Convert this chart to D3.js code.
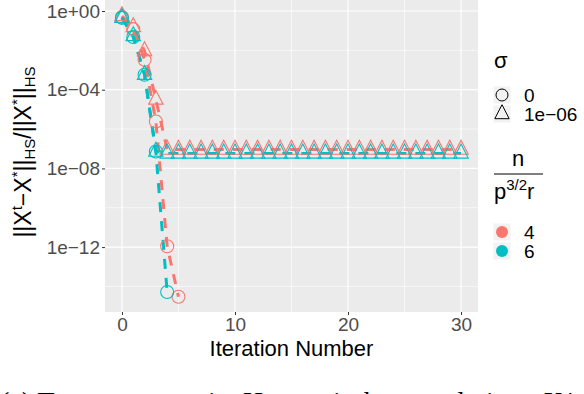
<!DOCTYPE html>
<html><head><meta charset="utf-8">
<script src="https://cdn.jsdelivr.net/npm/d3@7"></script>
<style>body{margin:0;background:#fff}svg{display:block}</style>
</head><body>
<svg id="c" width="584" height="394"></svg>
<script>
// ---- data ----
const iterations = d3.range(0, 31);
const xTicks = [0, 10, 20, 30];
const yTicks = [1e0, 1e-4, 1e-8, 1e-12];
const yTickLabels = ["1e+00", "1e\u221204", "1e\u221208", "1e\u221212"];
const yMinor = [1e-2, 1e-6, 1e-10, 1e-14];
const sigmaLevels = ["0", "1e\u221206"];
const ratioLevels = ["4", "6"];
// sigma = 0 (circles)
const sig0_n4 = [0.50, 0.12, 3.3e-3, 2.4e-6, 1.1e-12, 3.0e-15];
const sig0_n6 = [0.45, 0.048, 5.8e-4, 7.2e-8, 5.2e-15];
// sigma = 1e-06 (triangles)
const sig6_n4 = [0.56, 0.155, 9.3e-3, 3.2e-5, 9.1e-8, 9.1e-8, 9.1e-8, 9.1e-8, 9.1e-8, 9.1e-8, 9.1e-8,
  9.1e-8, 9.1e-8, 9.1e-8, 9.1e-8, 9.1e-8, 9.1e-8, 9.1e-8, 9.1e-8, 9.1e-8, 9.1e-8,
  9.1e-8, 9.1e-8, 9.1e-8, 9.1e-8, 9.1e-8, 9.1e-8, 9.1e-8, 9.1e-8, 9.1e-8, 9.1e-8];
const sig6_n6 = [0.45, 0.054, 5.8e-4, 7.2e-8, 5.8e-8, 5.8e-8, 5.8e-8, 5.8e-8, 5.8e-8, 5.8e-8, 5.8e-8,
  5.8e-8, 5.8e-8, 5.8e-8, 5.8e-8, 5.8e-8, 5.8e-8, 5.8e-8, 5.8e-8, 5.8e-8, 5.8e-8,
  5.8e-8, 5.8e-8, 5.8e-8, 5.8e-8, 5.8e-8, 5.8e-8, 5.8e-8, 5.8e-8, 5.8e-8, 5.8e-8];

const colors = {"4": "#F8766D", "6": "#00BFC4"};
const series = [
  {sigma: "0", ratio: "4", vals: sig0_n4},
  {sigma: "1e\u221206", ratio: "4", vals: sig6_n4},
  {sigma: "0", ratio: "6", vals: sig0_n6},
  {sigma: "1e\u221206", ratio: "6", vals: sig6_n6}
];

// ---- layout ----
const svg = d3.select("#c");
const P = {l: 105, r: 478, t: 0, b: 312};
const x = d3.scaleLinear().domain([-1.5, 31.5]).range([P.l, P.r]);
const y = d3.scaleLog().domain([Math.pow(10, -15.3), Math.pow(10, 0.56)]).range([P.b, P.t]);

svg.append("rect").attr("x", P.l).attr("y", P.t).attr("width", P.r - P.l).attr("height", P.b - P.t).attr("fill", "#EBEBEB");
const g = svg.append("g");
g.selectAll(".ymin").data(yMinor).enter().append("line")
  .attr("x1", P.l).attr("x2", P.r).attr("y1", d => y(d)).attr("y2", d => y(d))
  .attr("stroke", "#fff").attr("stroke-width", 0.6);
g.selectAll(".xmin").data([5, 15, 25]).enter().append("line")
  .attr("y1", P.t).attr("y2", P.b).attr("x1", d => x(d)).attr("x2", d => x(d))
  .attr("stroke", "#fff").attr("stroke-width", 0.6);
g.selectAll(".ymaj").data(yTicks).enter().append("line")
  .attr("x1", P.l).attr("x2", P.r).attr("y1", d => y(d)).attr("y2", d => y(d))
  .attr("stroke", "#fff").attr("stroke-width", 1.2);
g.selectAll(".xmaj").data(xTicks).enter().append("line")
  .attr("y1", P.t).attr("y2", P.b).attr("x1", d => x(d)).attr("x2", d => x(d))
  .attr("stroke", "#fff").attr("stroke-width", 1.2);

const font = "Liberation Sans, Arial, sans-serif";
const xAxis = d3.axisBottom(x).tickValues(xTicks).tickSize(3).tickPadding(3);
const gx = svg.append("g").attr("transform", `translate(0,${P.b})`).call(xAxis);
gx.select(".domain").remove();
gx.selectAll("line").attr("stroke", "#333");
gx.selectAll("text").attr("fill", "#4D4D4D").style("font-family", font).style("font-size", "19px");

const yAxis = d3.axisLeft(y).tickValues(yTicks).tickFormat((d, i) => yTickLabels[i]).tickSize(3).tickPadding(2);
const gy = svg.append("g").attr("transform", `translate(${P.l},0)`).call(yAxis);
gy.select(".domain").remove();
gy.selectAll("line").attr("stroke", "#333");
gy.selectAll("text").attr("fill", "#4D4D4D").style("font-family", font).style("font-size", "19px");

// lines
const line = d3.line().x((d, i) => x(iterations[i])).y(d => y(d));
svg.append("defs").append("clipPath").attr("id", "pc").append("rect")
  .attr("x", P.l).attr("y", P.t).attr("width", P.r - P.l).attr("height", P.b - P.t);
const plot = svg.append("g").attr("clip-path", "url(#pc)");
series.forEach(s => {
  plot.append("path").datum(s.vals).attr("d", line).attr("fill", "none")
    .attr("stroke", colors[s.ratio]).attr("stroke-width", 3).attr("stroke-dasharray", "10,9");
});
const tri = "M0,-9.3L7.2,4.7L-7.2,4.7Z";
series.forEach(s => {
  const pts = plot.append("g");
  s.vals.forEach((v, i) => {
    if (s.sigma === "0") {
      pts.append("circle").attr("cx", x(iterations[i])).attr("cy", y(v)).attr("r", 6.5)
        .attr("fill", "none").attr("stroke", colors[s.ratio]).attr("stroke-width", 1.1);
    } else {
      pts.append("path").attr("d", tri).attr("transform", `translate(${x(iterations[i])},${y(v)})`)
        .attr("fill", "none").attr("stroke", colors[s.ratio]).attr("stroke-width", 1.1);
    }
  });
});

// axis titles
svg.append("text").attr("x", (P.l + P.r) / 2).attr("y", 356).attr("text-anchor", "middle")
  .style("font-family", font).style("font-size", "22px").attr("fill", "#000").text("Iteration Number");

const yt = svg.append("text").attr("transform", "translate(31,152) rotate(-90)").attr("text-anchor", "middle")
  .style("font-family", font).style("font-size", "23px").attr("fill", "#000");
yt.append("tspan").text("||X");
yt.append("tspan").attr("dy", -9).style("font-size", "15px").text("t");
yt.append("tspan").attr("dy", 9).text("\u2212X");
yt.append("tspan").attr("dy", -9).style("font-size", "15px").text("*");
yt.append("tspan").attr("dy", 9).text("||");
yt.append("tspan").attr("dy", 4).style("font-size", "15px").text("HS");
yt.append("tspan").attr("dy", -4).text("/||X");
yt.append("tspan").attr("dy", -9).style("font-size", "15px").text("*");
yt.append("tspan").attr("dy", 9).text("||");
yt.append("tspan").attr("dy", 4).style("font-size", "15px").text("HS");

// legend
const lg = svg.append("g");
const keyX = 502;
lg.append("text").attr("x", 494).attr("y", 68).style("font-family", font).style("font-size", "22px").text("\u03c3");
const sigY = [95, 114];
sigmaLevels.forEach((lab, i) => {
  lg.append("rect").attr("x", keyX - 8.5).attr("y", sigY[i] - 8.5).attr("width", 17).attr("height", 17).attr("fill", "#F2F2F2");
});
sigmaLevels.forEach((lab, i) => {
  if (i === 0) lg.append("circle").attr("cx", keyX).attr("cy", sigY[i]).attr("r", 6).attr("fill", "none").attr("stroke", "#000").attr("stroke-width", 1);
  else lg.append("path").attr("d", tri).attr("transform", `translate(${keyX},${sigY[i]})`).attr("fill", "none").attr("stroke", "#000").attr("stroke-width", 1);
  lg.append("text").attr("x", 524).attr("y", sigY[i] + 7).style("font-family", font).style("font-size", "19px").attr("fill", "#000").text(lab);
});
lg.append("text").attr("x", 518).attr("y", 166).attr("text-anchor", "middle").style("font-family", font).style("font-size", "22px").text("n");
lg.append("line").attr("x1", 494).attr("x2", 543).attr("y1", 174).attr("y2", 174).attr("stroke", "#000").attr("stroke-width", 1);
const ft = lg.append("text").attr("x", 494).attr("y", 199).style("font-family", font).style("font-size", "22px");
ft.append("tspan").text("p");
ft.append("tspan").attr("dy", -9).style("font-size", "15px").text("3/2");
ft.append("tspan").attr("dy", 9).text("r");
const ratY = [232, 251];
ratioLevels.forEach((lab, i) => {
  lg.append("rect").attr("x", keyX - 8.5).attr("y", ratY[i] - 8.5).attr("width", 17).attr("height", 17).attr("fill", "#F2F2F2");
});
ratioLevels.forEach((lab, i) => {
  lg.append("circle").attr("cx", keyX).attr("cy", ratY[i]).attr("r", 6).attr("fill", colors[lab]);
  lg.append("text").attr("x", 524).attr("y", ratY[i] + 7).style("font-family", font).style("font-size", "19px").attr("fill", "#000").text(lab);
});

// caption, cropped at the bottom edge as in the reference (only tops of tall letters show)
const capWords = [[0, "(a) Tensor error"], [183, "using"], [243, "Heron"], [333, "is"], [356, "the"],
  [423, "real"], [472, "via"], [543, "X*"]];
const cap = svg.append("text").attr("y", 411).style("font-family", "Liberation Serif, Times New Roman, serif")
  .style("font-size", "28px").attr("fill", "#000");
capWords.forEach(([cx, w]) => cap.append("tspan").attr("x", cx).text(w));
</script>
</body></html>
